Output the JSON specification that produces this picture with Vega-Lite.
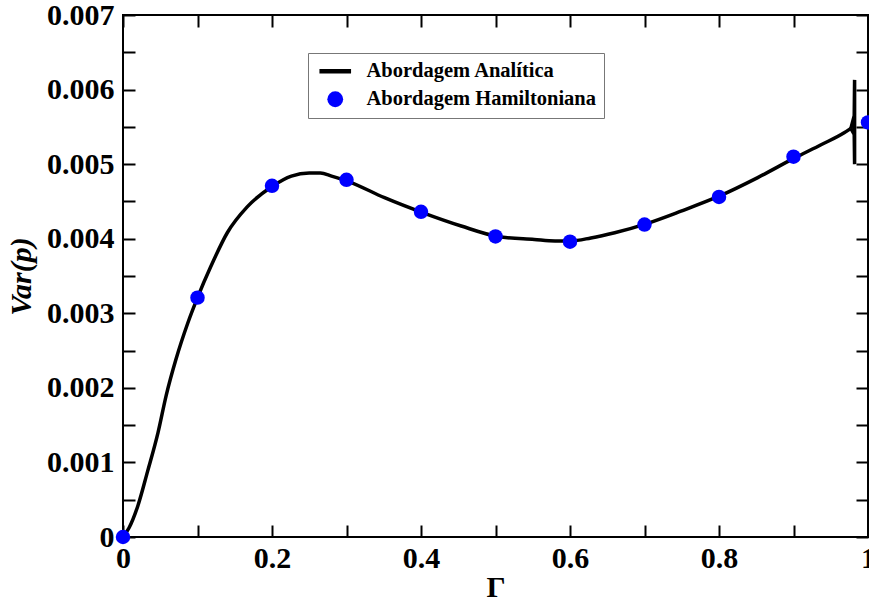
{
  "$schema": "https://vega.github.io/schema/vega-lite/v6.json",
  "width": 745,
  "height": 522,
  "autosize": "none",
  "padding": {"left": 123, "top": 15, "right": 1, "bottom": 67},
  "background": "white",
  "config": {
    "view": {"stroke": "black", "strokeWidth": 2},
    "axis": {
      "grid": false,
      "domain": false,
      "labelFont": "Liberation Serif",
      "labelFontWeight": "bold",
      "labelFontSize": 30,
      "labelColor": "black",
      "titleFont": "Liberation Serif",
      "titleColor": "black",
      "titleFontSize": 30
    }
  },
  "datasets": {
    "curve": [
      {"g": 0.0, "v": 0.0},
      {"g": 0.008, "v": 0.00012},
      {"g": 0.02, "v": 0.00042},
      {"g": 0.033, "v": 0.00088},
      {"g": 0.047, "v": 0.0014},
      {"g": 0.058, "v": 0.0019},
      {"g": 0.071, "v": 0.00238},
      {"g": 0.087, "v": 0.00287},
      {"g": 0.1, "v": 0.00321},
      {"g": 0.118, "v": 0.00363},
      {"g": 0.14, "v": 0.00408},
      {"g": 0.167, "v": 0.00443},
      {"g": 0.2, "v": 0.0047},
      {"g": 0.226, "v": 0.00484},
      {"g": 0.25, "v": 0.00488},
      {"g": 0.265, "v": 0.00488},
      {"g": 0.28, "v": 0.00484},
      {"g": 0.302, "v": 0.00477},
      {"g": 0.351, "v": 0.00455},
      {"g": 0.402, "v": 0.00435},
      {"g": 0.454, "v": 0.00417},
      {"g": 0.503, "v": 0.00403},
      {"g": 0.552, "v": 0.00399},
      {"g": 0.58, "v": 0.00397},
      {"g": 0.601, "v": 0.00397},
      {"g": 0.628, "v": 0.00401},
      {"g": 0.66, "v": 0.00408},
      {"g": 0.702, "v": 0.0042},
      {"g": 0.749, "v": 0.00437},
      {"g": 0.8, "v": 0.00457},
      {"g": 0.852, "v": 0.00482},
      {"g": 0.901, "v": 0.00508},
      {"g": 0.937, "v": 0.00526},
      {"g": 0.968, "v": 0.00542},
      {"g": 0.977, "v": 0.00548}
    ],
    "spike": [
      {"o": 1, "g": 0.977, "v": 0.00548},
      {"o": 2, "g": 0.9815, "v": 0.00565},
      {"o": 3, "g": 0.982, "v": 0.00613},
      {"o": 4, "g": 0.982, "v": 0.005},
      {"o": 5, "g": 0.9815, "v": 0.0054},
      {"o": 6, "g": 0.977, "v": 0.00548}
    ],
    "points": [
      {"g": 0.0, "v": 0.0, "s": "Abordagem Hamiltoniana"},
      {"g": 0.1, "v": 0.00321, "s": "Abordagem Hamiltoniana"},
      {"g": 0.2, "v": 0.00471, "s": "Abordagem Hamiltoniana"},
      {"g": 0.3, "v": 0.00479, "s": "Abordagem Hamiltoniana"},
      {"g": 0.4, "v": 0.00436, "s": "Abordagem Hamiltoniana"},
      {"g": 0.5, "v": 0.00403, "s": "Abordagem Hamiltoniana"},
      {"g": 0.6, "v": 0.00396, "s": "Abordagem Hamiltoniana"},
      {"g": 0.7, "v": 0.00419, "s": "Abordagem Hamiltoniana"},
      {"g": 0.8, "v": 0.00456, "s": "Abordagem Hamiltoniana"},
      {"g": 0.9, "v": 0.0051, "s": "Abordagem Hamiltoniana"},
      {"g": 1.0, "v": 0.00556, "s": "Abordagem Hamiltoniana"}
    ]
  },
  "layer": [
    {
      "data": {"name": "curve"},
      "mark": {"type": "line", "color": "black", "strokeWidth": 3.5, "interpolate": "monotone", "clip": false},
      "encoding": {
        "x": {
          "field": "g", "type": "quantitative",
          "scale": {"domain": [0, 1], "nice": false, "zero": false},
          "axis": {
            "orient": "bottom",
            "title": "Γ",
            "values": [0, 0.1, 0.2, 0.3, 0.4, 0.5, 0.6, 0.7, 0.8, 0.9, 1],
            "format": "~g",
            "labelExpr": "round(datum.value*10) % 2 === 0 ? datum.label : ''",
            "ticks": true,
            "tickColor": "black",
            "tickWidth": 2,
            "tickOpacity": 1,
            "tickSize": -12,
            "labelPadding": 18,
            "labelFlush": false,
            "labelOverlap": false,
            "titlePadding": -1
          }
        },
        "y": {
          "field": "v", "type": "quantitative",
          "scale": {"domain": [0, 0.007], "nice": false, "zero": false},
          "axis": {
            "orient": "left",
            "title": "Var(p)",
            "titleFontStyle": "italic",
            "titleFontWeight": "bold",
            "values": [0, 0.0005, 0.001, 0.0015, 0.002, 0.0025, 0.003, 0.0035, 0.004, 0.0045, 0.005, 0.0055, 0.006, 0.0065, 0.007],
            "format": "~g",
            "labelExpr": "round(datum.value*2000) % 2 === 0 ? datum.label : ''",
            "ticks": true,
            "tickColor": "black",
            "tickWidth": 2,
            "tickOpacity": 1,
            "tickSize": -12,
            "labelPadding": 21,
            "labelFlush": false,
            "labelOverlap": false,
            "titlePadding": 10
          }
        }
      }
    },
    {
      "data": {"name": "spike"},
      "mark": {"type": "line", "color": "black", "strokeWidth": 3.5, "clip": false},
      "encoding": {
        "x": {"field": "g", "type": "quantitative", "axis": null},
        "y": {"field": "v", "type": "quantitative", "axis": null},
        "order": {"field": "o", "type": "quantitative"}
      }
    },
    {
      "data": {"name": "points"},
      "mark": {"type": "point", "filled": true, "opacity": 1, "size": 210, "clip": false},
      "encoding": {
        "x": {
          "field": "g", "type": "quantitative",
          "axis": {
            "orient": "top", "title": null, "labels": false,
            "values": [0, 0.1, 0.2, 0.3, 0.4, 0.5, 0.6, 0.7, 0.8, 0.9, 1],
            "ticks": true, "tickColor": "black", "tickWidth": 2, "tickOpacity": 1,
            "tickSize": -12
          }
        },
        "y": {
          "field": "v", "type": "quantitative",
          "axis": {
            "orient": "right", "title": null, "labels": false,
            "values": [0, 0.0005, 0.001, 0.0015, 0.002, 0.0025, 0.003, 0.0035, 0.004, 0.0045, 0.005, 0.0055, 0.006, 0.0065, 0.007],
            "ticks": true, "tickColor": "black", "tickWidth": 2, "tickOpacity": 1,
            "tickSize": -12
          }
        },
        "color": {
          "field": "s", "type": "nominal",
          "scale": {"domain": ["Abordagem Analítica", "Abordagem Hamiltoniana"], "range": ["black", "blue"]},
          "legend": {
            "title": null,
            "orient": "none",
            "legendX": 185,
            "legendY": 38,
            "padding": 8,
            "strokeColor": "#777777",
            "fillColor": "white",
            "cornerRadius": 0,
            "symbolSize": 250,
            "symbolOffset": 9,
            "labelOffset": 21,
            "rowPadding": 7,
            "labelLimit": 0,
            "labelFont": "Liberation Serif",
            "labelFontWeight": "bold",
            "labelFontSize": 20.5,
            "labelColor": "black"
          }
        },
        "shape": {
          "field": "s", "type": "nominal",
          "scale": {"domain": ["Abordagem Analítica", "Abordagem Hamiltoniana"], "range": ["M-2,-0.3H2V0.3H-2Z", "circle"]},
          "legend": {
            "title": null,
            "orient": "none",
            "legendX": 185,
            "legendY": 38,
            "padding": 8,
            "strokeColor": "#777777",
            "fillColor": "white",
            "cornerRadius": 0,
            "symbolSize": 250,
            "symbolOffset": 9,
            "labelOffset": 21,
            "rowPadding": 7,
            "labelLimit": 0,
            "labelFont": "Liberation Serif",
            "labelFontWeight": "bold",
            "labelFontSize": 20.5,
            "labelColor": "black"
          }
        }
      }
    }
  ],
  "resolve": {"axis": {"x": "independent", "y": "independent"}}
}
